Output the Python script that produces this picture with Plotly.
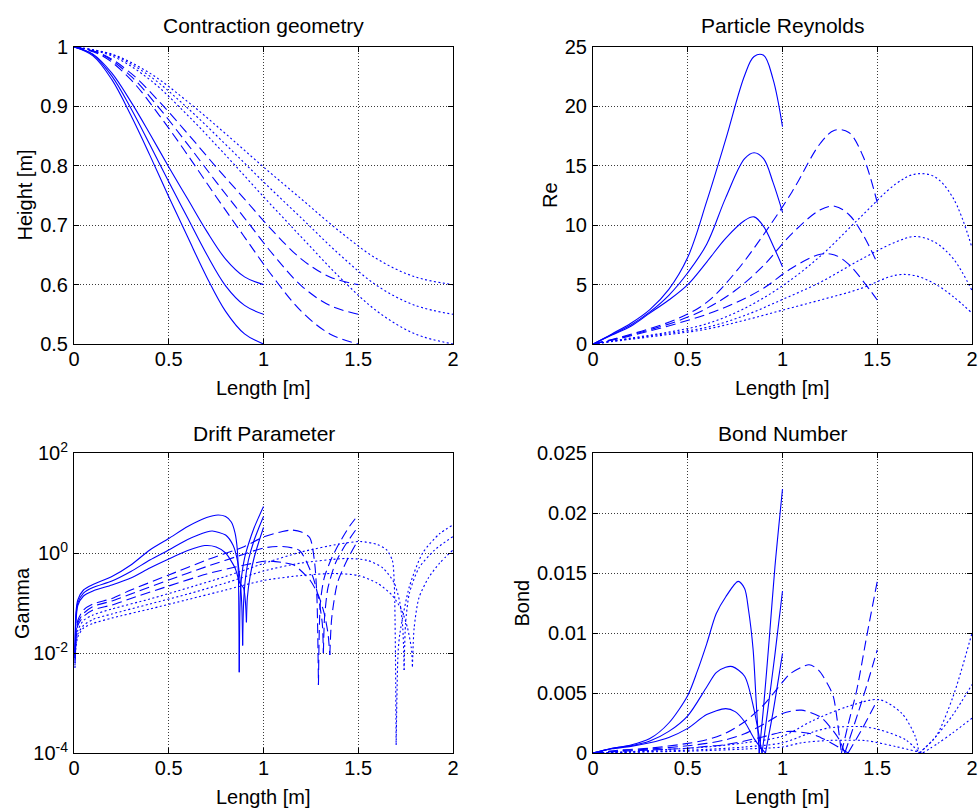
import plotly.graph_objects as go

# ---------------- data ----------------
# Contraction geometry (height vs length), three lengths x three end heights
len1_x = [0, 0.1, 0.2, 0.3, 0.4, 0.5, 0.6, 0.7, 0.8, 0.9, 1.0]
len15_x = [0, 0.15, 0.3, 0.45, 0.6, 0.75, 0.9, 1.05, 1.2, 1.35, 1.5]
len2_x = [0, 0.2, 0.4, 0.6, 0.8, 1.0, 1.2, 1.4, 1.6, 1.8, 2.0]
height_end060 = [1, 0.988, 0.956, 0.908, 0.854, 0.798, 0.744, 0.69, 0.643, 0.613, 0.6]
height_end055 = [1, 0.987, 0.951, 0.897, 0.836, 0.773, 0.712, 0.651, 0.598, 0.565, 0.55]
height_end050 = [1, 0.985, 0.945, 0.885, 0.818, 0.748, 0.68, 0.613, 0.555, 0.517, 0.5]

# Particle Reynolds
re_x_len1 = [0, 0.1, 0.2, 0.3, 0.4, 0.5, 0.6, 0.7, 0.8, 0.85, 0.9, 0.95, 1.0]
re_x_len15 = [0, 0.15, 0.3, 0.45, 0.6, 0.75, 0.9, 1.05, 1.2, 1.275, 1.35, 1.425, 1.5]
re_x_len2 = [0, 0.2, 0.4, 0.6, 0.8, 1.0, 1.2, 1.4, 1.6, 1.7, 1.8, 1.9, 2.0]
re_solid_050 = [0, 0.85, 1.75, 2.9, 4.6, 7.3, 12.0, 17.2, 22.6, 24.2, 24.3, 22.3, 18.3]
re_solid_055 = [0, 0.8, 1.6, 2.7, 4.1, 6.0, 8.4, 12.3, 15.6, 16.1, 15.6, 13.6, 11.1]
re_solid_060 = [0, 0.75, 1.5, 2.6, 3.7, 5.0, 6.9, 8.9, 10.4, 10.7, 9.9, 8.3, 6.5]
re_dash_050 = [0, 0.6, 1.3, 2.15, 3.5, 6.0, 9.2, 12.8, 16.9, 18.0, 17.8, 15.8, 11.9]
re_dash_055 = [0, 0.55, 1.2, 1.95, 3.0, 4.5, 6.6, 9.3, 11.3, 11.6, 10.9, 9.2, 6.8]
re_dash_060 = [0, 0.5, 1.1, 1.75, 2.5, 3.45, 4.7, 6.4, 7.55, 7.5, 6.7, 5.3, 3.7]
re_dot_050 = [0, 0.5, 1.0, 1.7, 3.0, 4.9, 7.4, 10.5, 13.5, 14.3, 14.1, 12.3, 8.1]
re_dot_055 = [0, 0.45, 0.9, 1.4, 2.4, 3.75, 5.2, 7.0, 8.6, 9.05, 8.6, 7.2, 4.5]
re_dot_060 = [0, 0.4, 0.8, 1.25, 2.0, 2.85, 3.7, 4.6, 5.8, 5.75, 5.1, 4.0, 2.6]

# Drift parameter (Gamma)
g_x_s050 = [0.005, 0.01, 0.02, 0.05, 0.1, 0.2, 0.3, 0.4, 0.5, 0.6, 0.7, 0.76, 0.8, 0.83, 0.85, 0.862, 0.868, 0.872, 0.877, 0.885, 0.9, 0.92, 0.95, 0.975, 1.0]
g_s050 = [0.0079, 0.063, 0.115, 0.182, 0.234, 0.339, 0.575, 1.15, 1.95, 3.39, 5.13, 5.75, 5.37, 4.17, 2.51, 1.15, 0.282, 0.0041, 0.126, 0.355, 0.794, 1.48, 3.16, 5.25, 8.51]
g_x_s055 = [0.005, 0.01, 0.02, 0.05, 0.1, 0.2, 0.3, 0.4, 0.5, 0.6, 0.7, 0.73, 0.8, 0.84, 0.865, 0.88, 0.886, 0.89, 0.895, 0.905, 0.92, 0.95, 0.975, 1.0]
g_s055 = [0.01, 0.05, 0.1, 0.158, 0.204, 0.275, 0.427, 0.724, 1.15, 1.86, 2.63, 2.75, 2.29, 1.41, 0.631, 0.2, 0.079, 0.0141, 0.1, 0.316, 0.708, 1.78, 3.16, 5.37]
g_x_s060 = [0.005, 0.01, 0.02, 0.05, 0.1, 0.2, 0.3, 0.4, 0.5, 0.6, 0.69, 0.75, 0.8, 0.85, 0.875, 0.895, 0.905, 0.91, 0.915, 0.93, 0.95, 0.975, 1.0]
g_s060 = [0.0071, 0.04, 0.089, 0.138, 0.174, 0.229, 0.316, 0.501, 0.759, 1.12, 1.41, 1.32, 1.0, 0.501, 0.251, 0.2, 0.1, 0.041, 0.13, 0.355, 0.794, 1.66, 3.24]
g_x_d050 = [0.005, 0.01, 0.02, 0.05, 0.1, 0.2, 0.3, 0.5, 0.7, 0.9, 1.0, 1.1, 1.15, 1.2, 1.245, 1.27, 1.282, 1.29, 1.3, 1.32, 1.36, 1.4, 1.457, 1.5]
g_d050 = [0.01, 0.025, 0.0447, 0.0724, 0.0955, 0.123, 0.182, 0.363, 0.724, 1.35, 2.09, 2.69, 2.88, 2.63, 2.0, 0.631, 0.126, 0.00229, 0.1, 0.316, 0.794, 1.58, 3.55, 5.75]
g_x_d055 = [0.005, 0.01, 0.02, 0.05, 0.1, 0.2, 0.3, 0.5, 0.7, 0.9, 1.0, 1.1, 1.19, 1.26, 1.29, 1.31, 1.316, 1.322, 1.34, 1.38, 1.43, 1.5]
g_d055 = [0.0089, 0.0224, 0.0398, 0.0617, 0.0851, 0.11, 0.151, 0.288, 0.537, 0.955, 1.26, 1.35, 1.12, 0.339, 0.126, 0.0398, 0.01, 0.05, 0.2, 0.631, 1.41, 3.39]
g_x_d060 = [0.005, 0.01, 0.02, 0.05, 0.1, 0.2, 0.3, 0.5, 0.7, 0.9, 1.02, 1.1, 1.16, 1.245, 1.29, 1.32, 1.34, 1.35, 1.36, 1.39, 1.44, 1.5]
g_d060 = [0.0079, 0.02, 0.0355, 0.0537, 0.0724, 0.0912, 0.123, 0.219, 0.38, 0.575, 0.692, 0.646, 0.575, 0.288, 0.141, 0.063, 0.0251, 0.00912, 0.05, 0.251, 0.708, 1.82]
g_x_p050 = [0.005, 0.01, 0.02, 0.05, 0.1, 0.2, 0.4, 0.6, 0.8, 1.0, 1.2, 1.4, 1.51, 1.6, 1.65, 1.68, 1.69, 1.70, 1.71, 1.72, 1.77, 1.84, 1.93, 2.0]
g_p050 = [0.0063, 0.0158, 0.0282, 0.0447, 0.0575, 0.0759, 0.12, 0.2, 0.339, 0.617, 1.05, 1.51, 1.7, 1.48, 1.15, 0.708, 0.251, 0.000145, 0.01, 0.0251, 0.214, 1.0, 2.45, 3.63]
g_x_p055 = [0.005, 0.01, 0.02, 0.05, 0.1, 0.2, 0.4, 0.6, 0.8, 1.0, 1.2, 1.44, 1.55, 1.63, 1.69, 1.72, 1.735, 1.742, 1.75, 1.77, 1.82, 1.9, 2.0]
g_p055 = [0.0056, 0.0141, 0.024, 0.0355, 0.0468, 0.0603, 0.0955, 0.151, 0.251, 0.437, 0.631, 0.776, 0.708, 0.501, 0.251, 0.1, 0.0316, 0.00457, 0.0398, 0.158, 0.501, 1.12, 2.14]
g_x_p060 = [0.005, 0.01, 0.02, 0.05, 0.1, 0.2, 0.4, 0.6, 0.8, 1.0, 1.2, 1.37, 1.5, 1.6, 1.68, 1.73, 1.76, 1.78, 1.786, 1.795, 1.82, 1.87, 1.93, 2.0]
g_p060 = [0.005, 0.0126, 0.0209, 0.0316, 0.0389, 0.0501, 0.0759, 0.117, 0.182, 0.282, 0.355, 0.389, 0.355, 0.251, 0.141, 0.0708, 0.0316, 0.0126, 0.00537, 0.0316, 0.126, 0.316, 0.631, 1.15]

# Bond number
b_x_s050 = [0, 0.05, 0.1, 0.2, 0.3, 0.4, 0.5, 0.55, 0.6, 0.65, 0.7, 0.766, 0.8, 0.82, 0.845, 0.86, 0.877, 0.9, 0.93, 0.96, 1.0]
b_s050 = [0, 0.0002, 0.0004, 0.00067, 0.0012, 0.0025, 0.0048, 0.0068, 0.0091, 0.0116, 0.013, 0.0143, 0.0137, 0.012, 0.0086, 0.0046, 0, 0.0038, 0.0095, 0.0155, 0.022]
b_x_s055 = [0, 0.05, 0.1, 0.2, 0.3, 0.4, 0.5, 0.6, 0.65, 0.7, 0.736, 0.8, 0.85, 0.872, 0.892, 0.92, 0.96, 1.0]
b_s055 = [0, 0.0002, 0.00038, 0.0006, 0.001, 0.0018, 0.0031, 0.0055, 0.0067, 0.00715, 0.0072, 0.0064, 0.0036, 0.0018, 0, 0.0033, 0.0082, 0.0135]
b_x_s060 = [0, 0.05, 0.1, 0.2, 0.3, 0.4, 0.5, 0.6, 0.7, 0.75, 0.8, 0.85, 0.88, 0.91, 0.95, 1.0]
b_s060 = [0, 0.00018, 0.00035, 0.00055, 0.00085, 0.0013, 0.00205, 0.0032, 0.0037, 0.00345, 0.0026, 0.0012, 0.00055, 0, 0.0034, 0.0083]
b_x_d050 = [0, 0.15, 0.3, 0.5, 0.6, 0.7, 0.8, 0.9, 1.0, 1.04, 1.14, 1.19, 1.25, 1.27, 1.29, 1.311, 1.35, 1.392, 1.444, 1.5]
b_d050 = [0, 0.00025, 0.0004, 0.0008, 0.0011, 0.00165, 0.0026, 0.004, 0.0059, 0.0066, 0.00735, 0.0069, 0.0054, 0.0046, 0.0026, 0, 0.0026, 0.00525, 0.0097, 0.0143]
b_x_d055 = [0, 0.15, 0.3, 0.5, 0.6, 0.7, 0.8, 0.9, 1.0, 1.1, 1.2, 1.25, 1.3, 1.329, 1.4, 1.45, 1.5]
b_d055 = [0, 0.0002, 0.00033, 0.0006, 0.0008, 0.0011, 0.0016, 0.0024, 0.0033, 0.00357, 0.003, 0.0022, 0.0011, 0, 0.0034, 0.0059, 0.0086]
b_x_d060 = [0, 0.15, 0.3, 0.5, 0.6, 0.7, 0.8, 0.9, 1.0, 1.05, 1.15, 1.2, 1.25, 1.3, 1.346, 1.42, 1.5]
b_d060 = [0, 0.00015, 0.00025, 0.0004, 0.00055, 0.0007, 0.001, 0.00136, 0.00175, 0.0018, 0.0016, 0.0013, 0.0009, 0.00045, 0, 0.002, 0.0044]
b_x_p050 = [0, 0.2, 0.4, 0.6, 0.8, 1.0, 1.16, 1.34, 1.51, 1.63, 1.7, 1.72, 1.81, 1.9, 2.0]
b_p050 = [0, 0.00012, 0.0003, 0.0005, 0.00085, 0.0014, 0.0027, 0.00385, 0.00445, 0.0033, 0.0014, 0, 0.0014, 0.0047, 0.01]
b_x_p055 = [0, 0.2, 0.4, 0.6, 0.8, 1.0, 1.16, 1.25, 1.42, 1.51, 1.65, 1.724, 1.8, 1.9, 2.0]
b_p055 = [0, 0.00008, 0.00018, 0.0003, 0.0005, 0.00085, 0.00175, 0.0021, 0.0022, 0.00195, 0.0011, 0, 0.0012, 0.0032, 0.0057]
b_x_p060 = [0, 0.2, 0.4, 0.6, 0.8, 1.0, 1.1, 1.25, 1.34, 1.44, 1.6, 1.74, 1.82, 1.9, 2.0]
b_p060 = [0, 0.00006, 0.00012, 0.0002, 0.00033, 0.0005, 0.00085, 0.00105, 0.00106, 0.00103, 0.00053, 0, 0.0008, 0.0017, 0.0029]

# Tick labels
x_ticks = [0, 0.5, 1, 1.5, 2]
x_ticktext = ["0", "0.5", "1", "1.5", "2"]
h_ticks = [0.5, 0.6, 0.7, 0.8, 0.9, 1]
h_ticktext = ["0.5", "0.6", "0.7", "0.8", "0.9", "1"]
re_ticks = [0, 5, 10, 15, 20, 25]
re_ticktext = ["0", "5", "10", "15", "20", "25"]
g_ticks = [1e-4, 1e-2, 1, 1e2]
g_ticktext = ["10<sup>-4</sup>", "10<sup>-2</sup>", "10<sup>0</sup>", "10<sup>2</sup>"]
b_ticks = [0, 0.005, 0.01, 0.015, 0.02, 0.025]
b_ticktext = ["0", "0.005", "0.01", "0.015", "0.02", "0.025"]

# ---------------- figure ----------------
BLUE = "#0000ff"
DASH = {"solid": "solid", "dash": "10px,5px", "dot": "2px,2.5px"}
FONT = "Liberation Sans, Arial, Helvetica, sans-serif"

fig = go.Figure()


def add(x, y, style, ax, shape="spline", smoothing=1.0):
    fig.add_trace(go.Scatter(
        x=x, y=y, mode="lines", xaxis="x" + ax, yaxis="y" + ax,
        line=dict(color=BLUE, width=1.1, dash=DASH[style], shape=shape, smoothing=smoothing),
        showlegend=False, hoverinfo="skip"))


def add_split(x, y, style, ax, k, smoothing):
    # draw the two branches either side of the cusp point k so the cusp stays sharp
    add(x[:k + 1], y[:k + 1], style, ax, "spline", smoothing)
    add(x[k:], y[k:], style, ax, "spline", smoothing)


# panel 1
for hx, style in ((len1_x, "solid"), (len15_x, "dash"), (len2_x, "dot")):
    for hy in (height_end060, height_end055, height_end050):
        add(hx, hy, style, "")
# panel 2
for rx, style, series in ((re_x_len1, "solid", (re_solid_050, re_solid_055, re_solid_060)),
                          (re_x_len15, "dash", (re_dash_050, re_dash_055, re_dash_060)),
                          (re_x_len2, "dot", (re_dot_050, re_dot_055, re_dot_060))):
    for ry in series:
        add(rx, ry, style, "2")
# panel 3
for gx, gy, style in ((g_x_s050, g_s050, "solid"), (g_x_s055, g_s055, "solid"), (g_x_s060, g_s060, "solid"),
                      (g_x_d050, g_d050, "dash"), (g_x_d055, g_d055, "dash"), (g_x_d060, g_d060, "dash"),
                      (g_x_p050, g_p050, "dot"), (g_x_p055, g_p055, "dot"), (g_x_p060, g_p060, "dot")):
    k = min(range(4, len(gy)), key=lambda i: gy[i])
    add_split(gx, gy, style, "3", k, 0.7)
# panel 4
for bx, by, style in ((b_x_s050, b_s050, "solid"), (b_x_s055, b_s055, "solid"), (b_x_s060, b_s060, "solid"),
                      (b_x_d050, b_d050, "dash"), (b_x_d055, b_d055, "dash"), (b_x_d060, b_d060, "dash"),
                      (b_x_p050, b_p050, "dot"), (b_x_p055, b_p055, "dot"), (b_x_p060, b_p060, "dot")):
    k = by.index(0, 1)
    add_split(bx, by, style, "4", k, 0.8)

W, H = 980, 811
XL = [74 / W, 453 / W]
XR = [593 / W, 972 / W]
YT = [1 - 344 / H, 1 - 47 / H]
YB = [1 - 753 / H, 1 - 453 / H]


def axis(domain, anchor, tickvals, ticktext, rng, standoff, typ="linear"):
    return dict(domain=domain, anchor=anchor, range=rng, type=typ, automargin=False,
                tickmode="array", tickvals=tickvals, ticktext=ticktext,
                showline=True, linecolor="black", linewidth=1, mirror="ticks",
                ticks="inside", ticklen=5, tickwidth=1, tickcolor="black",
                showgrid=True, gridcolor="#3a3a3a", gridwidth=1, griddash="1px,2px",
                zeroline=False, ticklabelstandoff=standoff,
                tickfont=dict(family=FONT, size=20, color="black"))


fig.update_layout(
    template="none",
    width=W, height=H, autosize=False,
    margin=dict(l=0, r=0, t=0, b=0, pad=0),
    paper_bgcolor="white", plot_bgcolor="white",
    xaxis=axis(XL, "y", x_ticks, x_ticktext, [0, 2], -3),
    yaxis=axis(YT, "x", h_ticks, h_ticktext, [0.5, 1], 1),
    xaxis2=axis(XR, "y2", x_ticks, x_ticktext, [0, 2], -3),
    yaxis2=axis(YT, "x2", re_ticks, re_ticktext, [0, 25], 1),
    xaxis3=axis(XL, "y3", x_ticks, x_ticktext, [0, 2], -3),
    yaxis3=axis(YB, "x3", g_ticks, g_ticktext, [-4, 2], 1, "log"),
    xaxis4=axis(XR, "y4", x_ticks, x_ticktext, [0, 2], -3),
    yaxis4=axis(YB, "x4", b_ticks, b_ticktext, [0, 0.025], 1),
)

ann = []


def text(s, px, py, size=20, angle=0):
    ann.append(dict(text=s, x=px / W, y=1 - py / H, xref="paper", yref="paper",
                    showarrow=False, xanchor="center", yanchor="middle", textangle=angle,
                    font=dict(family=FONT, size=size, color="black")))


text("Contraction geometry", 263.5, 25, 21)
text("Particle Reynolds", 782.5, 25, 21)
text("Drift Parameter", 263.5, 433.5, 21)
text("Bond Number", 782.5, 433.5, 21)
text("Length [m]", 263.5, 388)
text("Length [m]", 782.5, 388)
text("Length [m]", 263.5, 797)
text("Length [m]", 782.5, 797)
text("Height [m]", 25, 195.5, angle=-90)
text("Re", 550.5, 195.5, angle=-90)
text("Gamma", 22, 603, angle=-90)
text("Bond", 521.5, 603, angle=-90)
fig.update_layout(annotations=ann)

fig.write_html("out.html", config={"displayModeBar": False},
               post_script="document.body.style.margin='0';")
